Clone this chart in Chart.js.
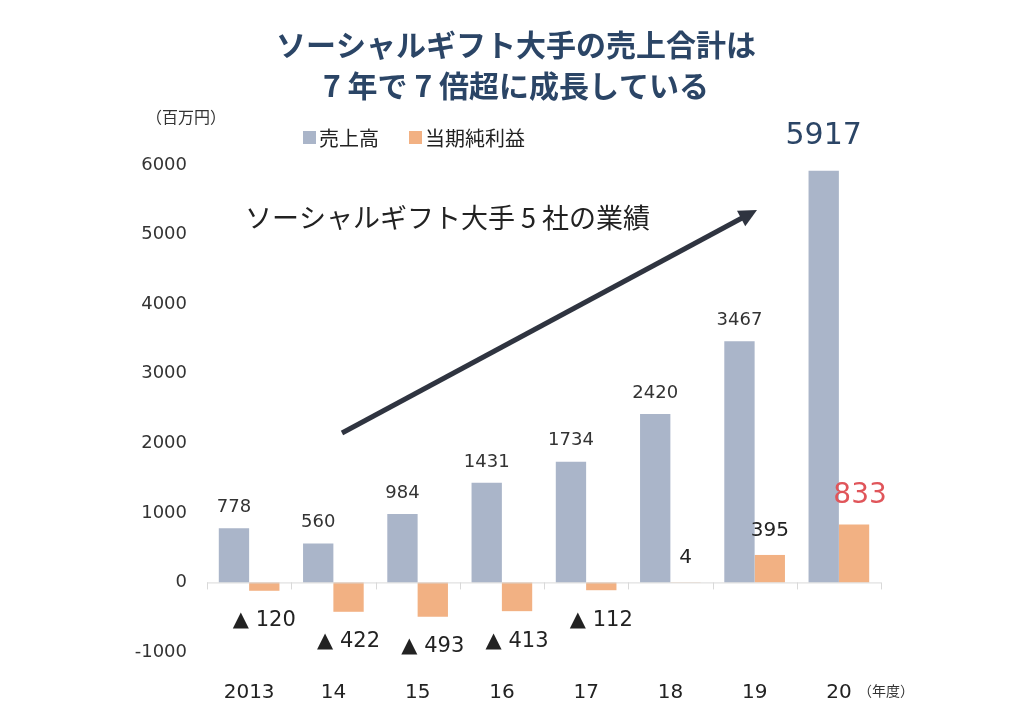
<!DOCTYPE html>
<html>
<head>
<meta charset="utf-8">
<script src="https://cdn.jsdelivr.net/npm/chart.js@4"></script>
<style>
  body { margin: 0; background: #fff; }
  #wrap { width: 1024px; height: 721px; }
</style>
</head>
<body>
<div id="wrap"><canvas id="myChart" width="1024" height="721"></canvas></div>
<script>
const categories = ['2013', '14', '15', '16', '17', '18', '19', '20'];
const sales = [778, 560, 984, 1431, 1734, 2420, 3467, 5917];
const profit = [-120, -422, -493, -413, -112, 4, 395, 833];
const yTicks = [-1000, 0, 1000, 2000, 3000, 4000, 5000, 6000];

const titleLines = ['ソーシャルギフト大手の売上合計は', '7 年で 7 倍超に成長している'];
const seriesNames = ['売上高', '当期純利益'];
const unitLabel = '（百万円）';
const yearLabel = '（年度）';
const noteText = 'ソーシャルギフト大手 5 社の業績';

const blue = '#aab5c9';
const orange = '#f2b183';
const jp = '"Noto Sans CJK JP", sans-serif';
const num = '"DejaVu Sans", sans-serif';

const decorations = {
    id: 'decorations',
    afterDatasetsDraw(chart) {
        const ctx = chart.ctx;
        const y = chart.scales.y;
        const y0 = y.getPixelForValue(0);

        // baseline with category tick marks
        ctx.save();
        ctx.strokeStyle = '#d9d9d9';
        ctx.lineWidth = 1;
        ctx.beginPath();
        ctx.moveTo(chart.chartArea.left, y0 + 0.5);
        ctx.lineTo(chart.chartArea.right, y0 + 0.5);
        const step = (chart.chartArea.right - chart.chartArea.left) / categories.length;
        for (let i = 0; i <= categories.length; i++) {
            const px = Math.round(chart.chartArea.left + step * i) + 0.5;
            ctx.moveTo(px, y0);
            ctx.lineTo(px, y0 + 7);
        }
        ctx.stroke();

        // value labels
        const metaS = chart.getDatasetMeta(0);
        const metaP = chart.getDatasetMeta(1);
        ctx.textAlign = 'center';
        sales.forEach((v, i) => {
            const bar = metaS.data[i];
            ctx.textBaseline = 'bottom';
            if (i === sales.length - 1) {
                ctx.font = '500 30px ' + num;
                ctx.fillStyle = '#2b4566';
                ctx.fillText(String(v), bar.x, bar.y - 20);
            } else {
                ctx.font = '18px ' + num;
                ctx.fillStyle = '#333';
                ctx.fillText(String(v), bar.x, bar.y - 12);
            }
        });
        profit.forEach((v, i) => {
            const bar = metaP.data[i];
            ctx.textBaseline = 'middle';
            if (v < 0) {
                ctx.font = '21px ' + num;
                ctx.fillStyle = '#222';
                ctx.fillText('▲ ' + Math.abs(v), bar.x, bar.y + 30);
            } else if (i === profit.length - 1) {
                ctx.font = '28px ' + num;
                ctx.fillStyle = '#e0555a';
                ctx.fillText(String(v), bar.x + 6, bar.y - 29);
            } else {
                ctx.font = '20px ' + num;
                ctx.fillStyle = '#222';
                ctx.fillText(String(v), bar.x, Math.min(bar.y, y0) - 24);
            }
        });

        // title
        ctx.fillStyle = '#2b4566';
        ctx.font = 'bold 30px ' + jp;
        ctx.textBaseline = 'middle';
        ctx.fillText(titleLines[0], 516, 45);
        ctx.fillText(titleLines[1], 516, 86);

        // unit and legend
        ctx.textAlign = 'left';
        ctx.font = '16px ' + jp;
        ctx.fillStyle = '#333';
        ctx.fillText(unitLabel, 146, 117);
        ctx.font = '20px ' + jp;
        [[blue, 303], [orange, 409]].forEach((it, k) => {
            ctx.fillStyle = it[0];
            ctx.fillRect(it[1], 131, 13, 13);
            ctx.fillStyle = '#222';
            ctx.fillText(seriesNames[k], it[1] + 16, 138);
        });

        // note and arrow
        ctx.font = '27px ' + jp;
        ctx.fillStyle = '#222';
        ctx.fillText(noteText, 245, 218);

        ctx.strokeStyle = '#2f3440';
        ctx.fillStyle = '#2f3440';
        ctx.lineWidth = 5;
        ctx.beginPath();
        ctx.moveTo(342, 433);
        ctx.lineTo(742, 218);
        ctx.stroke();
        const ang = Math.atan2(210 - 433, 757 - 342);
        ctx.beginPath();
        ctx.moveTo(757, 210);
        ctx.lineTo(757 - 20 * Math.cos(ang - 0.45), 210 - 20 * Math.sin(ang - 0.45));
        ctx.lineTo(757 - 20 * Math.cos(ang + 0.45), 210 - 20 * Math.sin(ang + 0.45));
        ctx.closePath();
        ctx.fill();

        // year unit
        ctx.font = '14px ' + jp;
        ctx.fillStyle = '#333';
        ctx.fillText(yearLabel, 858, 691);
        ctx.restore();
    }
};

document.addEventListener('DOMContentLoaded', function () {
    const canvas = document.getElementById('myChart');
    const ctx = canvas.getContext('2d');

    new Chart(ctx, {
        type: 'bar',
        data: {
            labels: categories,
            datasets: [
                {
                    label: seriesNames[0],
                    data: sales,
                    backgroundColor: blue,
                    barPercentage: 1.0,
                    categoryPercentage: 0.72
                },
                {
                    label: seriesNames[1],
                    data: profit,
                    backgroundColor: orange,
                    barPercentage: 1.0,
                    categoryPercentage: 0.72
                }
            ]
        },
        options: {
            responsive: false,
            animation: false,
            layout: {
                padding: { left: 0, right: 143, top: 165, bottom: 22 }
            },
            plugins: {
                legend: { display: false },
                tooltip: { enabled: false }
            },
            scales: {
                x: {
                    grid: { display: false },
                    border: { display: false },
                    ticks: {
                        color: '#222',
                        padding: 21,
                        font: { family: num, size: 20 }
                    },
                    afterFit: function (s) { s.height = 47; }
                },
                y: {
                    min: -1000,
                    max: 6000,
                    grid: { display: false },
                    border: { display: false },
                    afterBuildTicks: function (s) {
                        s.ticks = yTicks.map(v => ({ value: v }));
                    },
                    ticks: {
                        color: '#333',
                        padding: 12,
                        font: { family: num, size: 18 },
                        callback: function (v) { return String(v); }
                    },
                    afterFit: function (s) { s.width = 207; }
                }
            }
        },
        plugins: [decorations]
    });
});
</script>
</body>
</html>
